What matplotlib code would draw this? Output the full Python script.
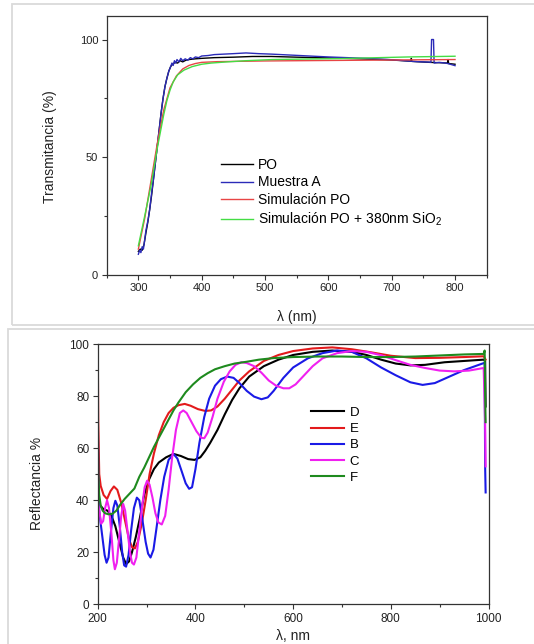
import matplotlib
matplotlib.use("Agg")
import matplotlib.pyplot as plt
from matplotlib.patches import Rectangle
from matplotlib.ticker import MultipleLocator

plt.rcParams['font.family'] = ['Liberation Sans', 'DejaVu Sans']
plt.rcParams['mathtext.default'] = 'regular'

#### Top panel data: transmittance ####
po_x = [300, 303, 306, 309, 312, 315, 318, 321, 324, 327, 330, 333, 336, 339, 342, 345,
        348, 351, 354, 358, 362, 366, 370, 375, 380, 390, 400, 420, 450, 480, 510, 550,
        600, 650, 700, 730, 731, 732, 760, 780, 788, 789, 790, 800]
po_y = [10, 11, 10.5, 13, 18, 22.5, 28, 34, 41, 48, 55, 62, 69, 75, 80, 83.5,
        86.5, 88.5, 89.5, 90.3, 90, 91, 90.5, 91.2, 91.5, 91.8, 92, 92.3, 92.5, 92.8, 92.8, 92.5,
        92.2, 91.8, 91.3, 90.8, 92, 90.7, 90.3, 90.1, 90, 91.5, 89.8, 89.5]

ma_x = [300, 302, 304, 306, 308, 310, 312, 315, 318, 321, 324, 327, 330, 333, 336, 339,
        342, 345, 348, 351, 353, 355, 357, 359, 361, 364, 367, 370, 374, 378, 382, 386,
        390, 395, 400, 410, 420, 435, 450, 470, 490, 510, 540, 570, 600, 630, 660, 690,
        720, 740, 760, 762, 763, 766, 767, 775, 785, 790, 795, 800]
ma_y = [8.8, 10.5, 9.5, 12, 11, 15, 19, 23, 28, 35, 41, 48, 55, 62, 69, 75,
        80, 83.5, 86.5, 88.5, 90, 89, 91, 90, 91.5, 90.5, 92, 91, 91.8, 91.2, 92.3, 91.8,
        92.6, 92.3, 93, 93.2, 93.6, 93.8, 94, 94.3, 94, 93.8, 93.4, 93, 92.6, 92.3, 92, 91.6,
        91, 90.6, 90.4, 90.3, 100, 100, 90, 90.3, 90, 89.7, 89.3, 88.9]

sim_x = [300, 310, 320, 330, 340, 350, 360, 370, 380, 390, 400, 425, 450, 500, 550,
         600, 650, 700, 750, 800]
sim_y = [11, 24, 40, 56, 70, 79.5, 84.5, 87.5, 89, 89.8, 90.3, 90.6, 90.7, 90.9, 91,
         91.1, 91.2, 91.3, 91.4, 91.5]

sio_x = [300, 310, 320, 330, 340, 345, 350, 355, 362, 372, 385, 400, 415, 440, 470,
         512, 560, 620, 680, 727, 800]
sio_y = [12.4, 25, 38, 54, 68, 74, 78.5, 82, 85, 87, 88.5, 89.5, 90, 90.5, 91,
         91.5, 91.7, 91.9, 92.3, 92.6, 92.9]

#### Bottom panel data: reflectance ####
d_x = [200, 205, 212, 220, 228, 236, 244, 252, 258, 264, 270, 278, 286, 295, 305, 315,
       325, 340, 355, 370, 385, 398, 410, 420, 430, 445, 460, 475, 490, 510, 540, 570,
       600, 640, 680, 720, 750, 780, 810, 840, 870, 910, 950, 990, 993, 994]
d_y = [42, 38, 36.5, 36, 34, 30, 24, 18, 15.5, 16.5, 20, 26, 33, 42, 48, 52,
       54.5, 56.5, 57.8, 57, 55.8, 55.5, 56.5, 59, 62, 67, 73, 78.5, 83, 87.5, 91.5, 94,
       95.8, 97, 97.5, 97, 95.8, 94, 92.5, 91.8, 92, 93, 93.5, 94, 93.5, 76]

e_x = [200, 201, 203, 206, 212, 219, 226, 233, 240, 248, 256, 264, 270, 276, 282, 290,
       298, 306, 315, 325, 335, 345, 355, 365, 378, 390, 405, 420, 432, 445, 460, 475,
       490, 510, 540, 570, 600, 640, 680, 720, 760, 800, 850, 900, 950, 990, 994]
e_y = [100, 70, 50, 45.5, 42, 40.5, 43.5, 45.3, 44, 39, 32, 25, 22, 21.5, 24, 31,
       40, 50, 58, 65, 70, 73.5, 75.5, 76.5, 77, 76.3, 75, 74.3, 74.5, 76, 79, 82.5,
       86, 89.5, 93.5, 95.8, 97.3, 98.3, 98.7, 98, 96.8, 95.5, 94.6, 94.7, 95, 95.3, 94]

b_x = [200, 201, 203, 206, 210, 214, 218, 222, 227, 232, 236, 240, 245, 250, 254, 258,
       263, 268, 274, 280, 285, 291, 298, 303, 308, 314, 320, 328, 336, 345, 355, 363,
       372, 380, 387, 393, 400, 408, 418, 428, 440, 452, 465, 478, 490, 505, 520, 535,
       548, 560, 580, 600, 630, 660, 690, 720, 750, 780, 810, 840, 865, 890, 920, 950,
       980, 992, 993, 994]
b_y = [77, 50, 36, 31, 25, 19, 16, 18, 28, 37, 39.8, 38, 30, 20, 15, 14.5,
       19, 28, 37, 41, 40, 33, 24, 19.5, 18, 21, 29, 40, 49, 55.5, 57.8, 56,
       51, 46.5, 44.4, 45, 52, 62, 72, 79, 84, 86.5, 87.5, 87, 85, 82, 79.8, 78.8,
       79.5, 82, 87, 91, 94.5, 96.5, 97.5, 97, 94.5, 91, 88, 85.3, 84.3, 85, 87.5, 90,
       92, 92.8, 53, 43]

c_x = [200, 203, 207, 211, 215, 219, 223, 228, 232, 235, 239, 244, 248, 252, 256, 261,
       266, 270, 274, 279, 285, 291, 296, 301, 306, 312, 318, 324, 331, 338, 345, 352,
       360, 368, 375, 382, 392, 402, 412, 418, 425, 435, 445, 458, 470, 482, 494, 505,
       520, 535, 550, 565, 580, 592, 605, 620, 640, 660, 690, 720, 750, 780, 810, 840,
       870, 900, 930, 960, 990, 993, 994]
c_y = [40, 36, 31, 32, 37, 40, 37, 27, 17, 13.5, 16, 26, 34, 38.6, 36, 28,
       20, 16, 15.3, 18, 28, 38, 45, 47.5, 46, 41, 35, 31.5, 30.7, 34, 44, 56,
       67, 73.5, 74.5, 73.5, 70, 66.5, 64, 63.8, 66, 72, 79, 85.5, 89.5, 92, 93, 92.7,
       91.5, 89, 86, 84, 83, 83, 84.5, 87.5, 91.5, 94.5, 96.5, 97.3, 97, 95.7, 93.8, 92,
       90.8, 89.8, 89.5, 89.8, 90.8, 70, 53]

f_x = [200, 201, 203, 206, 210, 215, 222, 230, 238, 246, 255, 265, 275, 285, 295, 305,
       315, 325, 335, 345, 355, 365, 380, 395, 410, 425, 440, 460, 480, 505, 530, 560,
       600, 650, 700, 750, 800, 850, 900, 950, 990, 992, 993, 994]
f_y = [66, 50, 42, 38, 36, 35, 34.6, 34.8, 36, 38.3, 40.5, 42.5, 44.5, 49, 52.5, 56.5,
       60.5, 64, 67.5, 71, 74.5, 77.5, 81.5, 84.5, 87, 88.8, 90.3, 91.5, 92.5, 93.2, 94, 94.6,
       95, 95.2, 95.2, 95, 95, 95.2, 95.6, 96, 96.2, 97.5, 80, 70]

#### Figure ####
fig = plt.figure(figsize=(5.34, 6.44), dpi=100)

# light gray frames around each panel
fig.add_artist(Rectangle((0.0219, 0.4946), 1.1, 0.4987, transform=fig.transFigure,
                         fill=False, edgecolor="#dadada", linewidth=1.3))
fig.add_artist(Rectangle((0.0159, -0.1), 1.1, 0.5899, transform=fig.transFigure,
                         fill=False, edgecolor="#dadada", linewidth=1.3))


def style_axes(ax, fs):
    for s in ax.spines.values():
        s.set_linewidth(0.9)
        s.set_color("#333333")
    ax.tick_params(which="both", direction="out", top=False, right=False,
                   colors="#333333", labelcolor="#222222", labelsize=fs, width=0.8)
    ax.tick_params(which="major", length=3.6, pad=2.5)
    ax.tick_params(which="minor", length=2.2)


# Top: transmittance
ax1 = fig.add_axes([0.1998, 0.5730, 0.7116, 0.4022])
ax1.plot(po_x, po_y, color="black", lw=1.0, label="PO")
ax1.plot(ma_x, ma_y, color="#2b2bb8", lw=1.0, label="Muestra A")
ax1.plot(sim_x, sim_y, color="#e84545", lw=1.0, label="Simulación PO")
ax1.plot(sio_x, sio_y, color="#44dd44", lw=1.0, label="Simulación PO + 380nm SiO$_2$")
ax1.set_xlim(250, 850)
ax1.set_ylim(0, 110)
ax1.set_xticks([300, 400, 500, 600, 700, 800])
ax1.set_yticks([0, 50, 100])
ax1.xaxis.set_minor_locator(MultipleLocator(50))
ax1.yaxis.set_minor_locator(MultipleLocator(25))
style_axes(ax1, 8)
ax1.legend(loc="upper left", bbox_to_anchor=(0.4139, 0.7547), bbox_transform=fig.transFigure,
           frameon=False, fontsize=10, borderpad=0, borderaxespad=0, handlelength=2.3,
           handletextpad=0.38, labelspacing=0.25)
fig.text(0.0936, 0.772, "Transmitancia (%)", rotation=90, ha="center", va="center",
         fontsize=10, color="#222222")
fig.text(0.555, 0.5085, "λ (nm)", ha="center", va="center", fontsize=10, color="#222222")

# Bottom: reflectance
ax2 = fig.add_axes([0.1831, 0.0615, 0.7318, 0.4043])
ax2.plot(d_x, d_y, color="black", lw=1.5, label="D")
ax2.plot(e_x, e_y, color="#e31a1c", lw=1.5, label="E")
ax2.plot(b_x, b_y, color="#1a1ae6", lw=1.5, label="B")
ax2.plot(c_x, c_y, color="#f020f0", lw=1.5, label="C")
ax2.plot(f_x, f_y, color="#1e8a1e", lw=1.5, label="F")
ax2.set_xlim(200, 1000)
ax2.set_ylim(0, 100)
ax2.set_xticks([200, 400, 600, 800, 1000])
ax2.set_yticks([0, 20, 40, 60, 80, 100])
ax2.xaxis.set_minor_locator(MultipleLocator(100))
ax2.yaxis.set_minor_locator(MultipleLocator(10))
style_axes(ax2, 8.5)
ax2.legend(loc="upper left", bbox_to_anchor=(0.5816, 0.3683), bbox_transform=fig.transFigure,
           frameon=False, fontsize=9.5, borderpad=0, borderaxespad=0, handlelength=2.55,
           handletextpad=0.4, labelspacing=0.3)
fig.text(0.0702, 0.2492, "Reflectancia %", rotation=90, ha="center", va="center",
         fontsize=10, color="#222222")
fig.text(0.549, 0.002, "λ, nm", ha="center", va="bottom", fontsize=10, color="#222222")

fig.savefig("out.png", dpi=100)
